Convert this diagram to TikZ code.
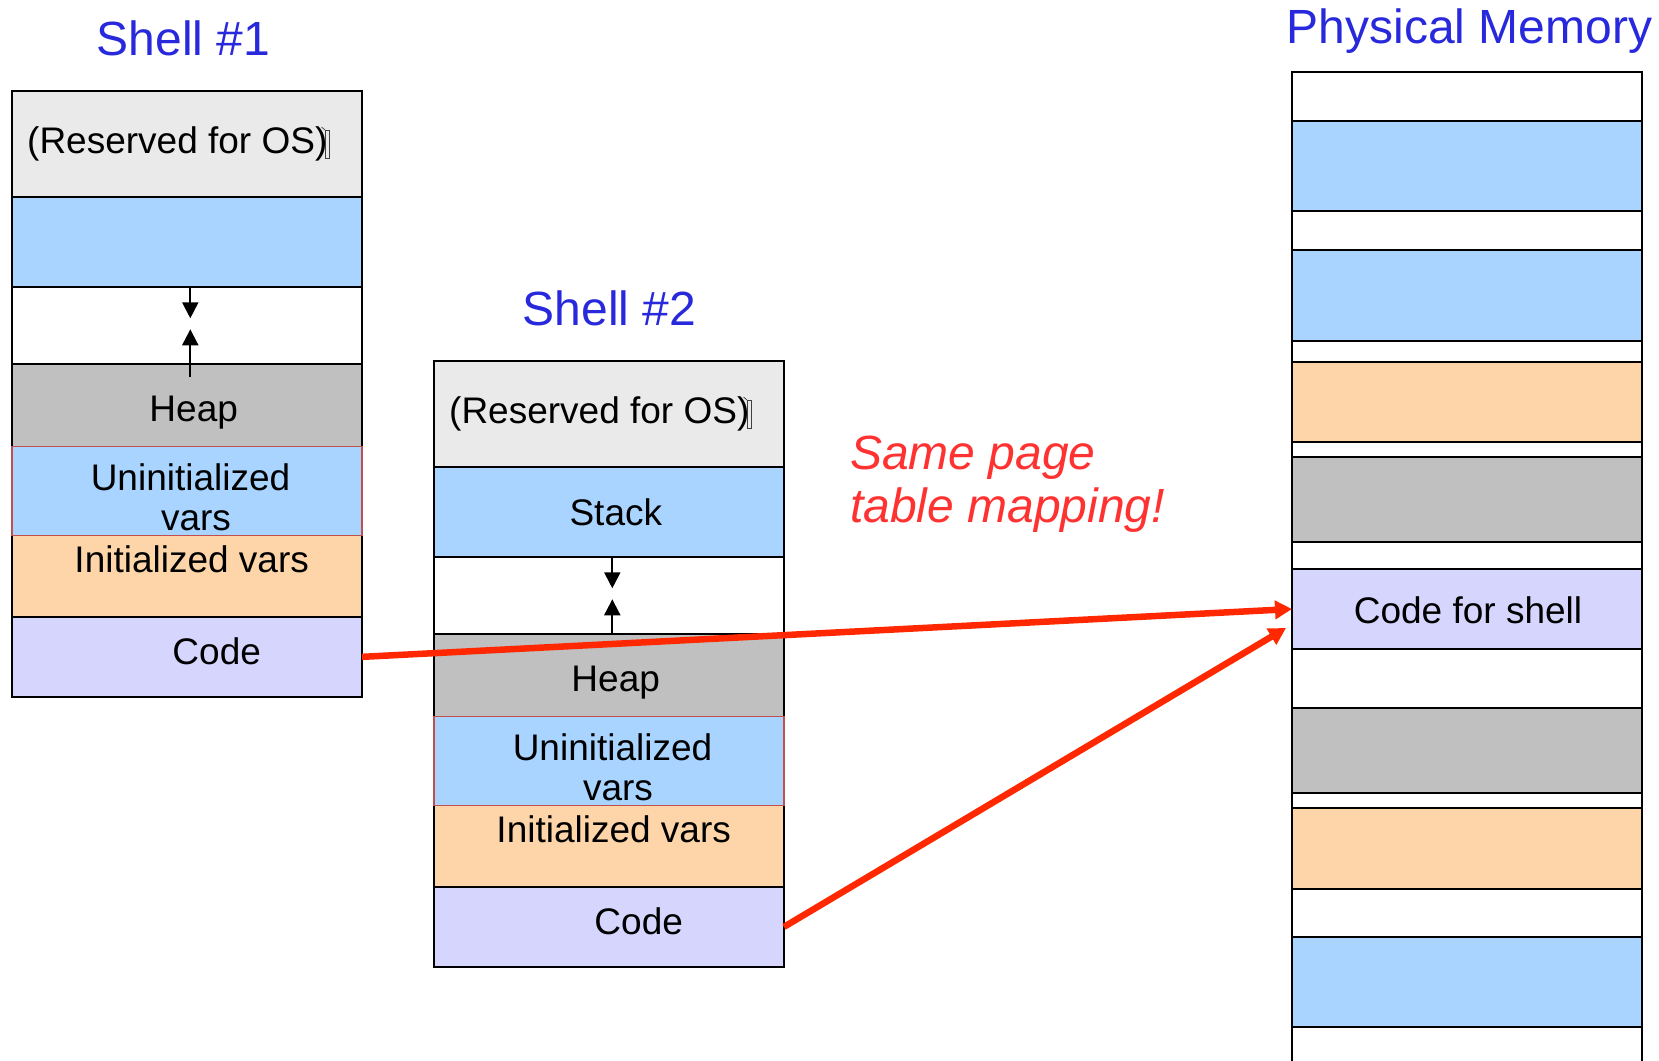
\documentclass[tikz,border=0pt]{standalone}
\usepackage{fontspec}
\setmainfont{Liberation Sans}
\usetikzlibrary{arrows.meta,calc}

\definecolor{osgray}{RGB}{234,234,234}
\definecolor{stackblue}{RGB}{168,212,255}
\definecolor{heapgray}{RGB}{192,192,192}
\definecolor{initorange}{RGB}{253,213,168}
\definecolor{codelav}{RGB}{213,213,253}
\definecolor{uninitedge}{RGB}{192,80,77}
\definecolor{titleblue}{RGB}{40,40,220}
\definecolor{notered}{RGB}{255,50,50}
\definecolor{maparrow}{RGB}{255,40,0}

% One address space: frame, segments, labels and the stack/heap growth arrows.
% #1 name prefix, #2 text of the stack segment, #3 tail of the heap arrow below the heap top
\newcommand\memstack[3]{%
  \node[segbox,fill=osgray,minimum height=106.3pt] (#1os) at (12,90.7) {};
  \node[segbox,fill=stackblue,minimum height=90pt] (#1stack) at (12,197) {};
  \node[segbox,fill=white,minimum height=77pt] (#1gap) at (12,287) {};
  \node[segbox,fill=heapgray,minimum height=82.7pt] (#1heap) at (12,364) {};
  \node[segbox,fill=initorange,minimum height=81.3pt] (#1init) at (12,535.7) {};
  \node[segbox,fill=codelav,minimum height=79.7pt] (#1code) at (12,617) {};
  \draw[line width=2pt] (#1os.north west) rectangle (#1code.south east);
  \node[segbox,fill=stackblue,draw=uninitedge,line width=1.4pt,minimum height=89pt] (#1uninit) at (12,446.7) {};
  % labels
  \node[lbltext,anchor=base west] (#1ostext) at (27,153) {(Reserved for OS)};
  \draw[glyphbox] (325,130) rectangle (329.5,158);
  \draw[glyphbox] (321.5,127) -- (325,130);
  \node[lbltext] (#1stacktext) at (193.8,255) {#2};
  \node[lbltext] (#1heaptext) at (193.7,421.7) {Heap};
  \node[lbltext] (#1uninittexta) at (190.5,490) {Uninitialized};
  \node[lbltext] (#1uninittextb) at (196,530) {vars};
  \node[lbltext] (#1inittext) at (191.7,572.7) {Initialized vars};
  \node[lbltext] (#1codetext) at (216.7,664) {Code};
  % growth arrows
  \coordinate (#1downtip) at (190.3,318.3);
  \coordinate (#1uptip) at (190.3,329.3);
  \draw[growarrow] (#1downtip |- #1stack.south) -- (#1downtip);
  \draw[growarrow] ($(#1uptip |- #1heap.north)+(0,#3)$) -- (#1uptip);
}

\begin{document}
\begin{tikzpicture}[x=1pt,y=-1pt,
  segbox/.style={draw=black,line width=1.5pt,inner sep=0pt,outer sep=0pt,
    anchor=north west,minimum width=350pt},
  lbltext/.style={anchor=base,inner sep=0pt,font=\fontsize{37}{40}\selectfont},
  titletext/.style={anchor=base,inner sep=0pt,text=titleblue,font=\fontsize{48}{50}\selectfont},
  notetext/.style={anchor=base west,inner sep=0pt,text=notered,font=\fontsize{48}{50}\selectfont\itshape},
  growarrow/.style={line width=2pt,-{Triangle[length=16pt,width=16pt]}},
  mapline/.style={draw=maparrow,line width=6.5pt,-{Triangle[length=17pt,width=18pt]}},
  glyphbox/.style={draw=black!75,line width=0.7pt},
]
\useasboundingbox (0,0) rectangle (1659,1060);
\fill[white] (0,0) rectangle (1659,1060);

% titles
\node[titletext] (title1) at (183.5,55) {Shell \#1};
\node[titletext] (title2) at (609.5,325) {Shell \#2};
\node[titletext] (titlepm) at (1469.5,43.3) {Physical Memory};

% the two virtual address spaces
\memstack{sa}{}{13}
\begin{scope}[shift={(422,270)}]
  \memstack{sb}{Stack}{0}
\end{scope}

% physical memory frames
\node[segbox,fill=stackblue,minimum height=90pt] (pma) at (1292,121) {};
\node[segbox,fill=stackblue,minimum height=91pt] (pmb) at (1292,250) {};
\node[segbox,fill=initorange,minimum height=80pt] (pmc) at (1292,362) {};
\node[segbox,fill=heapgray,minimum height=85pt] (pmd) at (1292,457) {};
\node[segbox,fill=codelav,minimum height=80pt] (pmcode) at (1292,569) {};
\node[segbox,fill=heapgray,minimum height=85pt] (pmf) at (1292,708) {};
\node[segbox,fill=initorange,minimum height=81pt] (pmg) at (1292,808) {};
\node[segbox,fill=stackblue,minimum height=90pt] (pmh) at (1292,937) {};
\draw[line width=2pt] (1292,1062) -- (1292,71.7) -- (1642,71.7) -- (1642,1062);
\node[lbltext] (pmcodetext) at (1468,623) {Code for shell};

% note
\node[notetext] (notea) at (850,469) {Same page};
\node[notetext] (noteb) at (850,522) {table mapping!};

% both code segments map to the same physical frame
\draw[mapline] (sacode.east) -- (pmcode.west);
\draw[mapline] (sbcode.east) -- ($(pmcode.west)+(-6,19)$);
\end{tikzpicture}
\end{document}
